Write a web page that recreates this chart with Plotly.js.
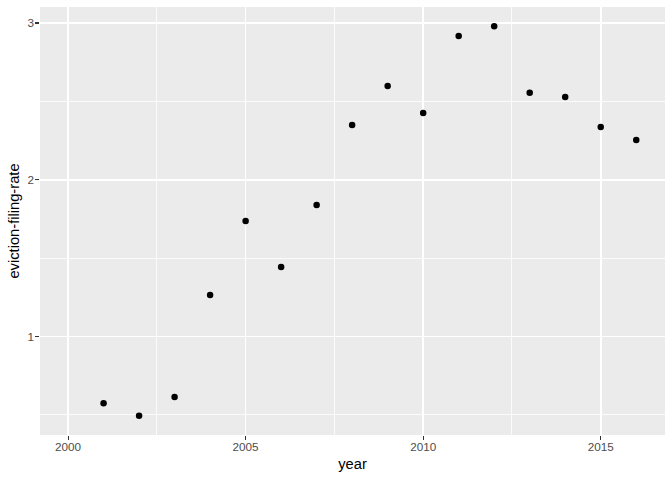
<!DOCTYPE html>
<html>
<head>
<meta charset="utf-8">
<script src="https://cdn.plot.ly/plotly-3.0.1.min.js"></script>
<style>body{margin:0;padding:0;background:#fff;}#chart{width:672px;height:480px;}</style>
</head>
<body>
<div id="chart"></div>
<script>
const years = [2001, 2002, 2003, 2004, 2005, 2006, 2007, 2008, 2009, 2010, 2011, 2012, 2013, 2014, 2015, 2016];
const rates = [0.575, 0.495, 0.615, 1.265, 1.737, 1.444, 1.839, 2.349, 2.598, 2.426, 2.917, 2.979, 2.555, 2.528, 2.337, 2.254];
const xTicks = [2000, 2005, 2010, 2015];
const yTicks = [1, 2, 3];

const trace = {
  x: years, y: rates, type: 'scatter', mode: 'markers',
  marker: {color: '#000000', size: 6.5},
  hoverinfo: 'x+y'
};

const layout = {
  width: 672, height: 480,
  margin: {l: 40, r: 7, t: 7, b: 45},
  paper_bgcolor: '#ffffff',
  plot_bgcolor: '#EBEBEB',
  font: {family: 'Liberation Sans, Arial, sans-serif', color: '#4D4D4D', size: 11.7},
  showlegend: false,
  xaxis: {
    range: [1999.21, 2016.81],
    tickmode: 'array', tickvals: xTicks, ticktext: xTicks.map(String),
    showgrid: true, gridcolor: '#ffffff', gridwidth: 1.6,
    minor: {showgrid: true, gridcolor: '#ffffff', gridwidth: 0.8, dtick: 2.5, tick0: 2000, ticks: ''},
    zeroline: false, showline: false,
    ticks: 'outside', ticklen: 3.7, tickwidth: 1.1, tickcolor: '#333333',
    ticklabelstandoff: -3,
    tickfont: {color: '#4D4D4D', size: 11.7},
    title: {text: 'year', font: {color: '#000000', size: 14.7}, standoff: 6}
  },
  yaxis: {
    range: [0.372, 3.102],
    tickmode: 'array', tickvals: yTicks, ticktext: yTicks.map(String),
    showgrid: true, gridcolor: '#ffffff', gridwidth: 1.6,
    minor: {showgrid: true, gridcolor: '#ffffff', gridwidth: 0.8, dtick: 1, tick0: 0.5, ticks: ''},
    zeroline: false, showline: false,
    ticks: 'outside', ticklen: 3.7, tickwidth: 1.1, tickcolor: '#333333',
    ticklabelstandoff: -1,
    tickfont: {color: '#4D4D4D', size: 11.7},
    title: {text: 'eviction-filing-rate', font: {color: '#000000', size: 14.7}, standoff: 4}
  }
};

Plotly.newPlot('chart', [trace], layout, {displayModeBar: false, staticPlot: true});
</script>
</body>
</html>
